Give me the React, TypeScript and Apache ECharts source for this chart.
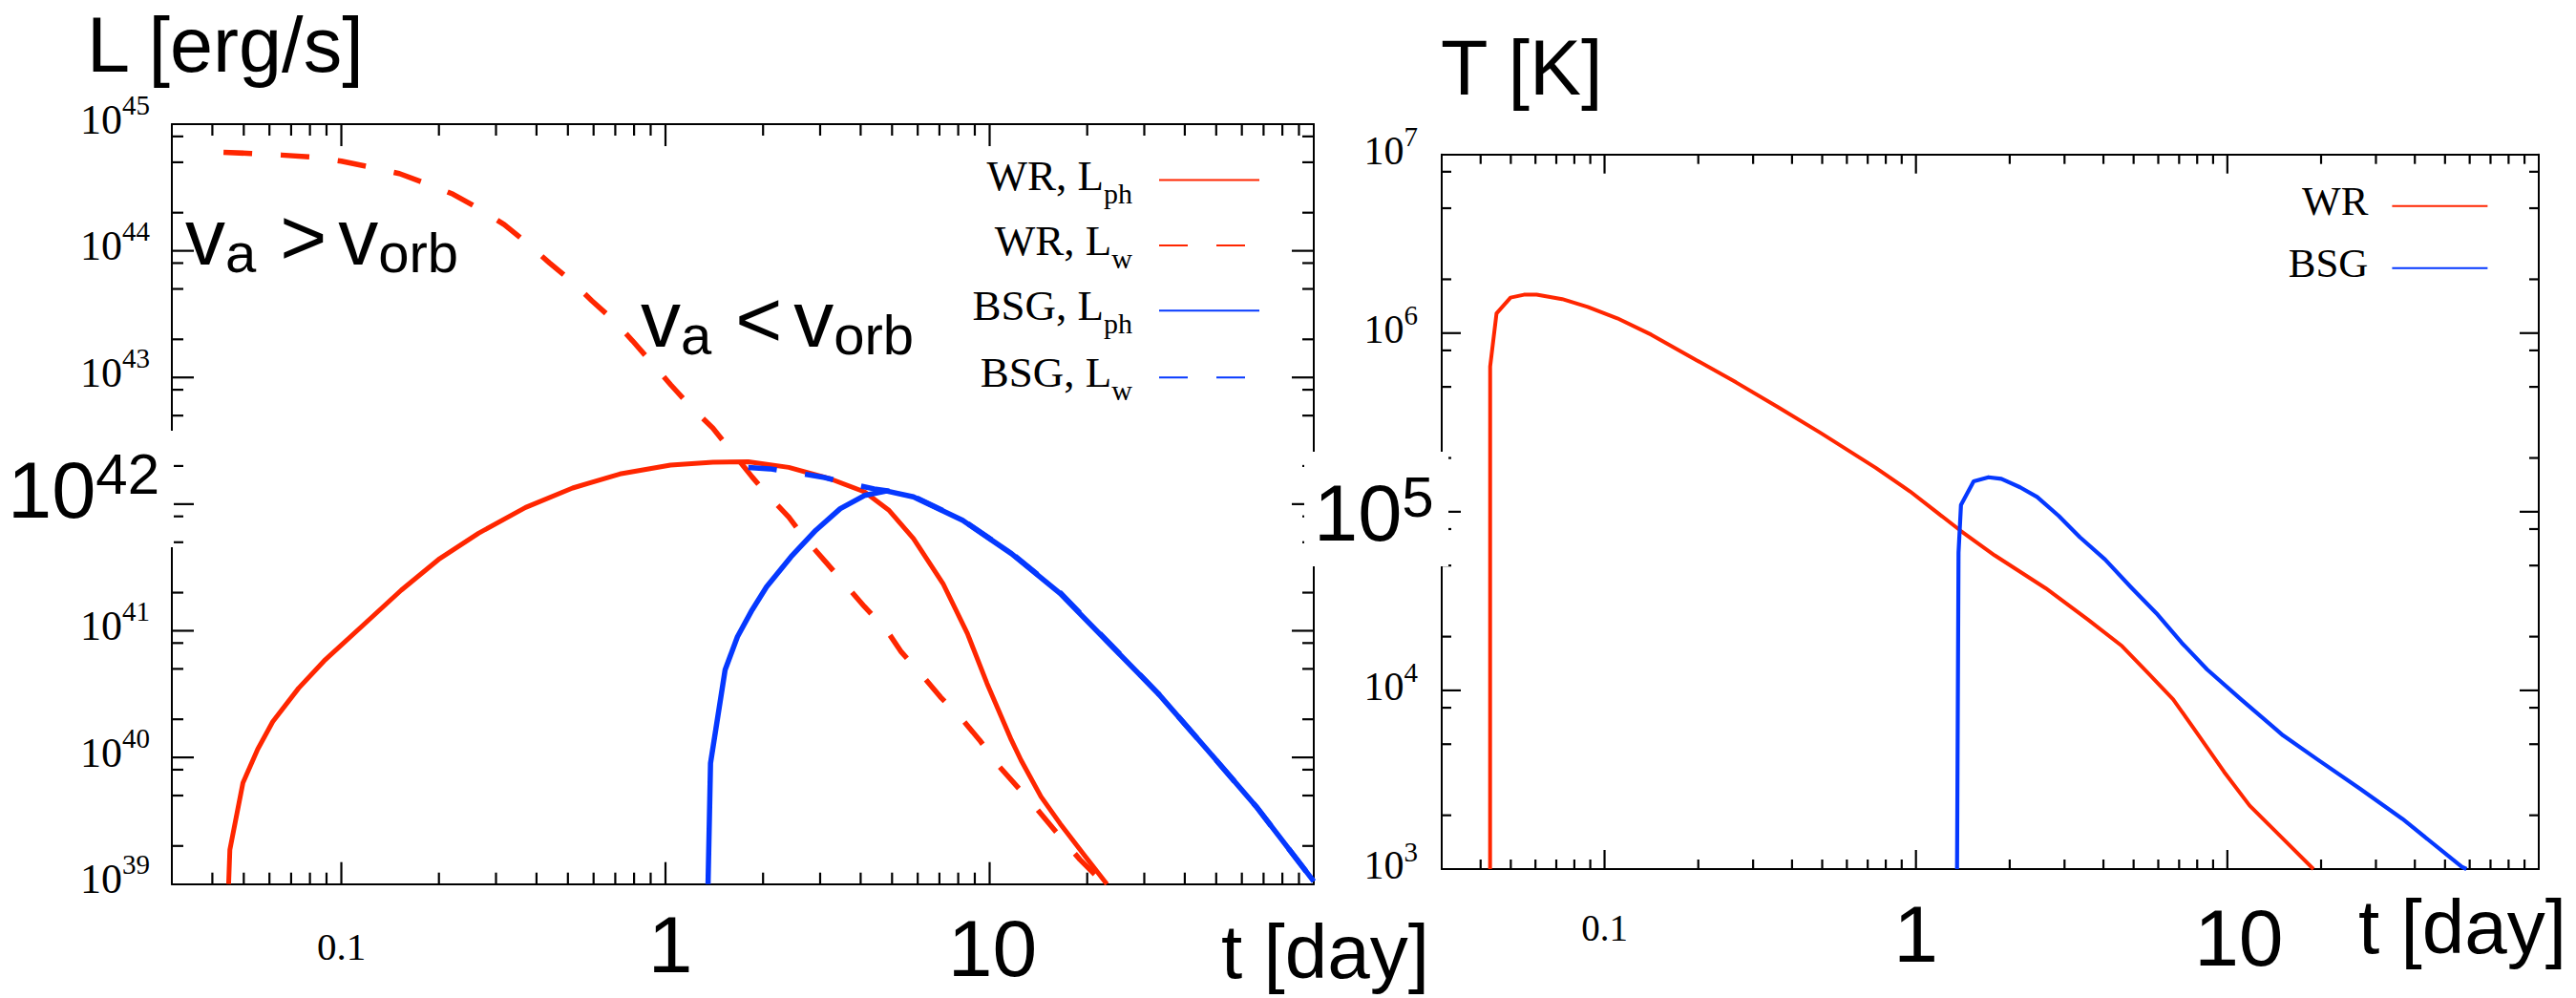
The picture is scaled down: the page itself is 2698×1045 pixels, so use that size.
import React, { useEffect, useRef } from 'react';
import * as echarts from 'echarts';

// ---------- data (t in days, L in erg/s, T in K) ----------
const wrLph: [number, number][] = [
  [0.0449, 1.0e39], [0.0453, 1.87e39], [0.0497, 6.3e39], [0.0552, 1.16e40], [0.0614, 1.91e40],
  [0.0738, 3.52e40], [0.0885, 5.79e40], [0.1164, 1.1e41], [0.153, 2.09e41], [0.2013, 3.72e41],
  [0.265, 5.89e41], [0.37, 9.4e41], [0.517, 1.34e42], [0.723, 1.73e42], [1.036, 2.03e42],
  [1.4, 2.14e42], [1.8, 2.16e42], [2.4, 1.95e42], [3.23, 1.58e42], [4.11, 1.25e42],
  [4.9, 8.9e41], [5.82, 5.35e41], [7.18, 2.36e41], [8.54, 9.5e40], [9.81, 3.85e40],
  [11.67, 1.37e40], [12.5, 9.5e39], [14.4, 4.9e39], [16.5, 3.0e39], [19.7, 1.66e39], [23.0, 1.0e39],
];
const wrLw: [number, number][] = [
  [0.0433, 6.0e44], [0.0527, 5.87e44], [0.0654, 5.7e44], [0.0808, 5.5e44], [0.1, 5.1e44],
  [0.122, 4.6e44], [0.151, 4.07e44], [0.181, 3.43e44], [0.221, 2.8e44], [0.265, 2.16e44],
  [0.318, 1.61e44], [0.371, 1.17e44], [0.438, 8.05e43], [0.509, 5.86e43], [0.593, 4.03e43],
  [0.69, 2.84e43], [0.791, 1.95e43], [0.908, 1.3e43], [1.04, 8.7e42], [1.19, 5.96e42],
  [1.4, 3.98e42], [1.85, 1.64e42], [2.05, 1.21e42], [2.4, 7.9e41], [2.67, 5.5e41],
  [3.12, 3.5e41], [4.11, 1.55e41], [4.81, 1.01e41], [5.34, 6.8e40], [6.24, 4.35e40],
  [7.05, 3.0e40], [8.25, 1.98e40], [9.31, 1.37e40], [10.7, 8.5e39], [13.9, 4.0e39],
  [16.0, 2.6e39], [19.0, 1.56e39], [22.6, 1.0e39],
];
const bsgLph: [number, number][] = [
  [1.353, 1.0e39], [1.377, 9.0e39], [1.527, 4.9e40], [1.667, 8.97e40], [1.85, 1.46e41],
  [2.05, 2.22e41], [2.44, 3.84e41], [2.91, 6.22e41], [3.46, 9.2e41], [4.11, 1.17e42],
  [4.81, 1.27e42], [5.82, 1.14e42], [8.25, 7.46e41], [11.67, 4.07e41], [16.5, 1.97e41],
  [23.4, 7.9e40], [33.1, 3.2e40], [46.9, 1.15e40], [66.4, 4.1e39], [100, 1.05e39],
];
const bsgLw: [number, number][] = [
  [1.8, 1.95e42], [2.1, 1.9e42], [2.5, 1.78e42], [3.1, 1.62e42], [3.7, 1.45e42],
  [4.4, 1.32e42], [5.0, 1.26e42], [5.82, 1.15e42], [8.25, 7.5e41], [11.67, 4.1e41],
  [16.5, 2.0e41], [23.4, 8.0e40], [33.1, 3.2e40], [46.9, 1.15e40], [66.4, 4.1e39], [100, 1.05e39],
];
const wrT: [number, number][] = [
  [0.0429, 1.0e3], [0.04292, 6.5e5], [0.045, 1.29e6], [0.0499, 1.58e6], [0.0551, 1.64e6],
  [0.0605, 1.64e6], [0.0731, 1.55e6], [0.0883, 1.4e6], [0.1099, 1.21e6], [0.1412, 9.8e5],
  [0.1932, 7.2e5], [0.2644, 5.3e5], [0.3615, 3.84e5], [0.4945, 2.76e5], [0.743, 1.76e5],
  [0.957, 1.3e5], [1.395, 7.8e4], [1.79, 5.7e4], [2.61, 3.73e4], [3.57, 2.49e4],
  [4.59, 1.77e4], [5.54, 1.26e4], [6.7, 8.9e3], [8.09, 5.6e3], [9.76, 3.5e3],
  [11.78, 2.27e3], [14.68, 1.55e3], [18.9, 1.0e3],
];
const bsgT: [number, number][] = [
  [1.355, 1.0e3], [1.37, 5.9e4], [1.395, 1.09e5], [1.532, 1.48e5], [1.71, 1.56e5],
  [1.88, 1.53e5], [2.16, 1.37e5], [2.45, 1.21e5], [2.87, 9.5e4], [3.36, 7.2e4],
  [4.05, 5.4e4], [4.89, 3.8e4], [5.91, 2.71e4], [7.13, 1.85e4], [8.61, 1.31e4],
  [11.07, 8.9e3], [15.1, 5.6e3], [19.5, 4.1e3], [26.7, 2.81e3], [36.5, 1.91e3],
  [56.6, 1.03e3], [58.6, 1.0e3],
];

// ---------- ticks and tick labels ----------
const tMajorTicks = [0.1, 1, 10];
const tLabelValues = [0.1, 1, 10];
const tMinorTicks = [0.04, 0.05, 0.06, 0.07, 0.08, 0.09, 0.2, 0.3, 0.4, 0.5, 0.6, 0.7, 0.8, 0.9,
  2, 3, 4, 5, 6, 7, 8, 9, 20, 30, 40, 50, 60, 70, 80, 90];
const lumMajorTicks = [1e40, 1e41, 1e42, 1e43, 1e44];
const lumLabelValues = [1e39, 1e40, 1e41, 1e43, 1e44, 0.9999999e45];
const lumMinorTicks = [2e39, 5e39, 8e39, 2e40, 5e40, 8e40, 2e41, 5e41, 8e41, 2e42, 5e42, 8e42,
  2e43, 5e43, 8e43, 2e44, 5e44, 8e44];
const tempMajorTicks = [1e4, 1e5, 1e6];
const tempLabelValues = [1e3, 1e4, 1e6, 0.9999999e7];
const tempMinorTicks = [2e3, 5e3, 8e3, 2e4, 5e4, 8e4, 2e5, 5e5, 8e5, 2e6, 5e6, 8e6];

const RED = '#ff2600';
const BLUE = '#0538ff';
const SERIF = 'Liberation Serif';
const SANS = 'Liberation Sans';

const G1 = { left: 180, top: 130, width: 1196, height: 795.7 };
const G2 = { left: 1510, top: 161.7, width: 1149, height: 748.3 };

function makeAxes(gridIndex: number, dim: 'x' | 'y', o: any) {
  const base = {
    type: 'log', logBase: 10, gridIndex, min: o.min, max: o.max, silent: true,
    splitLine: { show: false }, minorTick: { show: false }, minorSplitLine: { show: false },
    axisTick: { show: false },
  };
  const line = { color: '#000', width: 2 };
  return [
    { ...base, position: dim === 'x' ? 'bottom' : 'left', axisLine: { show: true, onZero: false, lineStyle: line },
      axisLabel: { ...o.label, customValues: o.labels }, ...(o.name || {}) },
    { ...base, position: dim === 'x' ? 'top' : 'right', axisLine: { show: true, onZero: false, lineStyle: line },
      axisLabel: { show: false } },
  ];
}

// inward tick marks on all four sides, positioned with the chart's own axis scales
function tickElements(chart: any, axisIndex: number, xLo: number, xHi: number, yLo: number, yHi: number,
  xMaj: number[], xMin: number[], yMaj: number[], yMin: number[], majLen: number, minLen: number, tag: string) {
  const finder = { xAxisIndex: axisIndex, yAxisIndex: axisIndex };
  const px = (x: number, y: number) => chart.convertToPixel(finder, [x, y]) as number[];
  const [left, bottom] = px(xLo, yLo);
  const [right, top] = px(xHi, yHi);
  const style = { stroke: '#000', lineWidth: 2.2 };
  const out: any[] = [];
  let k = 0;
  const addX = (vals: number[], len: number) => vals.forEach((v) => {
    const x = px(v, yLo)[0];
    out.push({ id: `${tag}${k++}`, type: 'line', z: 50, silent: true, shape: { x1: x, y1: bottom, x2: x, y2: bottom - len }, style });
    out.push({ id: `${tag}${k++}`, type: 'line', z: 50, silent: true, shape: { x1: x, y1: top, x2: x, y2: top + len }, style });
  });
  const addY = (vals: number[], len: number) => vals.forEach((v) => {
    const y = px(xLo, v)[1];
    out.push({ id: `${tag}${k++}`, type: 'line', z: 50, silent: true, shape: { x1: left, y1: y, x2: left + len, y2: y }, style });
    out.push({ id: `${tag}${k++}`, type: 'line', z: 50, silent: true, shape: { x1: right, y1: y, x2: right - len, y2: y }, style });
  });
  addX(xMaj, majLen); addX(xMin, minLen); addY(yMaj, majLen); addY(yMin, minLen);
  return out;
}

const powLabel = (v: number) => `{b|10}{s|${Math.round(Math.log10(v))}}`;
const tLabel = (v: number) => (v < 0.5 ? '{a|0.1}' : v < 5 ? '{b|1}' : '{c|10}');

const bigRich = {
  m: { fontFamily: SANS, fontSize: 83, lineHeight: 94, fill: '#000' },
  p: { fontFamily: SANS, fontSize: 60, verticalAlign: 'top', fill: '#000' },
};
const vRich = {
  v: { fontFamily: SANS, fontSize: 84, lineHeight: 90, fill: '#000' },
  s: { fontFamily: SANS, fontSize: 58, verticalAlign: 'bottom', fill: '#000' },
  g: { fontFamily: SANS, fontSize: 84, fill: '#000', padding: [0, 12, 0, 25] },
};
const overlayElements = [
  { id: 'box42', type: 'rect', z: 100, shape: { x: 10, y: 451, width: 172, height: 122 }, style: { fill: '#fff' } },
  { id: 'lab42', type: 'text', z: 101, x: 8, y: 466, style: { text: '{m|10}{p|42}', rich: bigRich, fill: '#000', verticalAlign: 'top', align: 'left' } },
  { id: 'box5', type: 'rect', z: 100, shape: { x: 1366, y: 473, width: 151, height: 120 }, style: { fill: '#fff' } },
  { id: 'lab5', type: 'text', z: 101, x: 1376, y: 490, style: { text: '{m|10}{p|5}', rich: bigRich, fill: '#000', verticalAlign: 'top', align: 'left' } },
  { id: 'vgt', type: 'text', z: 101, x: 194, y: 203, style: { text: '{v|v}{s|a}{g|>}{v|v}{s|orb}', rich: vRich, fill: '#000', verticalAlign: 'top', align: 'left' } },
  { id: 'vlt', type: 'text', z: 101, x: 671, y: 289, style: { text: '{v|v}{s|a}{g|<}{v|v}{s|orb}', rich: vRich, fill: '#000', verticalAlign: 'top', align: 'left' } },
];

function buildOption() {
  const xLeft = makeAxes(0, 'x', {
    min: 0.03, max: 100, labels: tLabelValues,
    label: {
      show: true, margin: 15, formatter: tLabel,
      rich: {
        a: { fontFamily: SERIF, fontSize: 41, lineHeight: 100, color: '#000' },
        b: { fontFamily: SANS, fontSize: 84, lineHeight: 97, color: '#000', padding: [0, 0, 0, 10] },
        c: { fontFamily: SANS, fontSize: 84, lineHeight: 104, color: '#000', padding: [0, 0, 0, 6] },
      },
    },
    name: {
      name: 't [day]', nameLocation: 'end', nameGap: 121,
      nameTextStyle: { fontFamily: SANS, fontSize: 80, color: '#000', align: 'right', verticalAlign: 'top', padding: [31, 0, 0, 0] },
    },
  });
  const xRight = makeAxes(1, 'x', {
    min: 0.03, max: 100, labels: tLabelValues,
    label: {
      show: true, margin: 15, formatter: tLabel,
      rich: {
        a: { fontFamily: SERIF, fontSize: 39, lineHeight: 92, color: '#000' },
        b: { fontFamily: SANS, fontSize: 84, lineHeight: 106, color: '#000' },
        c: { fontFamily: SANS, fontSize: 84, lineHeight: 113, color: '#000', padding: [0, 0, 0, 24] },
      },
    },
    name: {
      name: 't [day]', nameLocation: 'end', nameGap: 29,
      nameTextStyle: { fontFamily: SANS, fontSize: 80, color: '#000', align: 'right', verticalAlign: 'top', padding: [20, 0, 0, 0] },
    },
  });
  const yLeft = makeAxes(0, 'y', {
    min: 1e39, max: 1e45, labels: lumLabelValues,
    label: {
      show: true, margin: 23, padding: [0, 0, 10, 0], formatter: powLabel,
      rich: {
        b: { fontFamily: SERIF, fontSize: 44, lineHeight: 60, color: '#000' },
        s: { fontFamily: SERIF, fontSize: 29, verticalAlign: 'top', color: '#000' },
      },
    },
  });
  const yRight = makeAxes(1, 'y', {
    min: 1e3, max: 1e7, labels: tempLabelValues,
    label: {
      show: true, margin: 25, padding: [0, 0, 8, 0], formatter: powLabel,
      rich: {
        b: { fontFamily: SERIF, fontSize: 42, lineHeight: 58, color: '#000' },
        s: { fontFamily: SERIF, fontSize: 29, verticalAlign: 'top', color: '#000' },
      },
    },
  });

  const lineSeries = (name: string, data: [number, number][], axis: number, color: string, width: number, dashed: boolean) => ({
    type: 'line', name, data, xAxisIndex: axis, yAxisIndex: axis, symbol: 'none', smooth: false,
    lineStyle: { color, width, type: dashed ? [30, 30] : 'solid', join: 'round' }, itemStyle: { color },
    emphasis: { disabled: true }, z: 2,
  });

  const legendNames: Record<string, string> = {
    'WR, L_ph': '{m|WR, L}{s|ph}',
    'WR, L_w': '{m|WR, L}{s|w}',
    'BSG, L_ph': '{m|BSG, L}{s|ph}',
    'BSG, L_w': '{m|BSG, L}{s|w}',
    'WR': '{n|WR}',
    'BSG': '{n|BSG}',
  };
  const legendRich = {
    m: { fontFamily: SERIF, fontSize: 45, lineHeight: 67, color: '#000' },
    s: { fontFamily: SERIF, fontSize: 30, verticalAlign: 'bottom', color: '#000', padding: [0, 23, 0, 0] },
    n: { fontFamily: SERIF, fontSize: 43, lineHeight: 43, color: '#000', padding: [0, 20, 0, 0] },
  };
  const mkLegend = (name: string, right: number, top: number, itemWidth: number) => ({
    data: [name], orient: 'vertical', align: 'right', right, top, padding: 0, itemGap: 0,
    itemWidth, itemHeight: 14, selectedMode: false, itemStyle: { opacity: 0 },
    formatter: (n: string) => legendNames[n] || n,
    textStyle: { rich: legendRich, padding: [0, 0, 10, 0] },
  });
  const titleStyle = { fontFamily: SANS, fontSize: 81, lineHeight: 81, fontWeight: 'normal', color: '#000' };

  return {
    animation: false,
    backgroundColor: '#ffffff',
    title: [
      { text: 'L [erg/s]', left: 91, top: 6, padding: 0, textStyle: titleStyle },
      { text: 'T [K]', left: 1509, top: 30, padding: 0, textStyle: titleStyle },
    ],
    grid: [
      { ...G1, containLabel: false, outerBoundsMode: 'none' },
      { ...G2, containLabel: false, outerBoundsMode: 'none' },
    ],
    xAxis: [...xLeft, ...xRight],
    yAxis: [...yLeft, ...yRight],
    legend: [
      mkLegend('WR, L_ph', 1378, 161, 105),
      mkLegend('WR, L_w', 1378, 229.4, 105),
      mkLegend('BSG, L_ph', 1378, 297.7, 105),
      mkLegend('BSG, L_w', 1378, 367.7, 105),
      mkLegend('WR', 91.6, 189.2, 100),
      mkLegend('BSG', 91.6, 254.2, 100),
    ],
    series: [
      lineSeries('WR, L_ph', wrLph, 0, RED, 5, false),
      lineSeries('WR, L_w', wrLw, 0, RED, 5.5, true),
      lineSeries('BSG, L_ph', bsgLph, 0, BLUE, 5.5, false),
      lineSeries('BSG, L_w', bsgLw, 0, BLUE, 5.5, true),
      lineSeries('WR', wrT, 2, RED, 4, false),
      lineSeries('BSG', bsgT, 2, BLUE, 4.2, false),
    ],
    graphic: { elements: overlayElements },
  };
}

export default function App() {
  const ref = useRef<HTMLDivElement>(null);
  useEffect(() => {
    if (!ref.current) return;
    const chart = echarts.init(ref.current, undefined, { renderer: 'svg' });
    chart.setOption(buildOption() as any);
    const ticks = [
      ...tickElements(chart, 0, 0.03, 100, 1e39, 1e45, tMajorTicks, tMinorTicks, lumMajorTicks, lumMinorTicks, 23, 12, 'tl'),
      ...tickElements(chart, 2, 0.03, 100, 1e3, 1e7, tMajorTicks, tMinorTicks, tempMajorTicks, tempMinorTicks, 20, 10, 'tr'),
    ];
    chart.setOption({ graphic: { elements: [...overlayElements, ...ticks] } } as any);
    return () => chart.dispose();
  }, []);
  return (
    <div
      ref={ref}
      style={{ position: 'absolute', left: 0, top: 0, width: 2698, height: 1045, background: '#fff' }}
    />
  );
}
